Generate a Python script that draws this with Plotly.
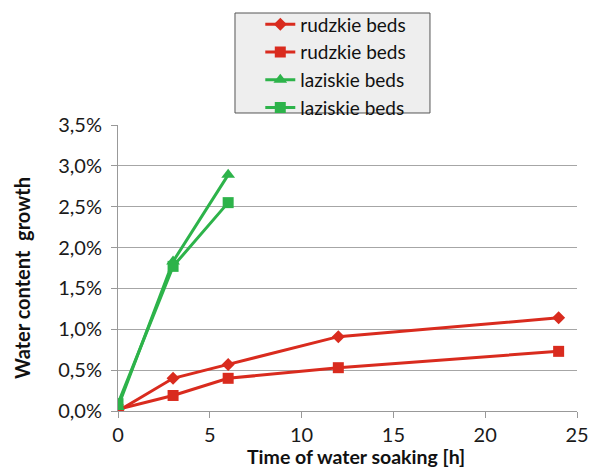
import plotly.graph_objects as go

time_rudzkie = [0, 3, 6, 12, 24]
rudzkie_diamond = [0.0, 0.40, 0.57, 0.91, 1.14]
rudzkie_square = [0.02, 0.19, 0.40, 0.53, 0.73]
time_laziskie = [0, 3, 6]
laziskie_triangle = [0.05, 1.83, 2.89]
laziskie_square = [0.09, 1.77, 2.55]

y_ticks = [0, 0.5, 1.0, 1.5, 2.0, 2.5, 3.0, 3.5]
y_ticktext = ["0,0%", "0,5%", "1,0%", "1,5%", "2,0%", "2,5%", "3,0%", "3,5%"]
x_ticks = [0, 5, 10, 15, 20, 25]

RED = "#d92b1e"
GREEN = "#2db34a"
FONT = "Lato"

fig = go.Figure()
fig.add_trace(go.Scatter(x=time_rudzkie, y=rudzkie_diamond, name="rudzkie beds",
                         mode="lines+markers", line=dict(color=RED, width=3),
                         marker=dict(symbol="diamond", size=10, color=RED)))
fig.add_trace(go.Scatter(x=time_rudzkie, y=rudzkie_square, name="rudzkie beds",
                         mode="lines+markers", line=dict(color=RED, width=3),
                         marker=dict(symbol="square", size=11, color=RED)))
fig.add_trace(go.Scatter(x=time_laziskie, y=laziskie_triangle, name="laziskie beds",
                         mode="lines+markers", line=dict(color=GREEN, width=3),
                         marker=dict(symbol="triangle-up", size=12, color=GREEN)))
fig.add_trace(go.Scatter(x=time_laziskie, y=laziskie_square, name="laziskie beds",
                         mode="lines+markers", line=dict(color=GREEN, width=3),
                         marker=dict(symbol="square", size=11, color=GREEN)))

# legend box background
fig.add_shape(type="rect", xref="paper", yref="paper",
              x0=0.2549, x1=0.6797, y0=1.042, y1=1.3916,
              fillcolor="#eeeeee", line=dict(color="#555555", width=1), layer="below")

# axis titles
fig.add_annotation(text="<b>Time of water soaking [h]</b>", xref="paper", yref="paper",
                   x=0.5185, y=-0.158, xanchor="center", yanchor="middle",
                   showarrow=False, font=dict(family=FONT, size=19.5, color="#111111"))
fig.add_annotation(text="<b>Water content  growth</b>", xref="paper", yref="paper",
                   x=-0.209, y=0.465, xanchor="center", yanchor="middle", textangle=-90,
                   showarrow=False, font=dict(family=FONT, size=20, color="#111111"))

fig.update_layout(
    width=590, height=470,
    margin=dict(l=118, r=13, t=125, b=59, autoexpand=False),
    paper_bgcolor="white", plot_bgcolor="white",
    font=dict(family=FONT, size=19, color="#1a1a1a"),
    showlegend=True,
    legend=dict(x=0.31, y=1.418, xanchor="left", yanchor="top",
                bgcolor="rgba(0,0,0,0)", borderwidth=0,
                font=dict(family=FONT, size=19, color="#111111"),
                tracegroupgap=0, itemwidth=30),
    xaxis=dict(range=[0, 25], tickvals=x_ticks, showgrid=False, zeroline=False,
               showline=True, linecolor="#999999", linewidth=1,
               ticks="outside", tickcolor="#999999", ticklen=6,
               tickfont=dict(size=20), automargin=False),
    yaxis=dict(range=[0, 3.5], tickvals=y_ticks, ticktext=y_ticktext,
               showgrid=True, gridcolor="#a6a6a6", gridwidth=1, zeroline=False,
               showline=True, linecolor="#999999", linewidth=1,
               ticks="outside", tickcolor="#999999", ticklen=6,
               ticklabelstandoff=5,
               tickfont=dict(size=20), automargin=False),
)

fig.write_html("out.html", config={"displayModeBar": False})

# remove the browser's default body margin so the figure sits at the page origin
with open("out.html", "r", encoding="utf-8") as f:
    html = f.read()
html = html.replace("<body>", '<body style="margin:0;padding:0;">', 1)
with open("out.html", "w", encoding="utf-8") as f:
    f.write(html)
